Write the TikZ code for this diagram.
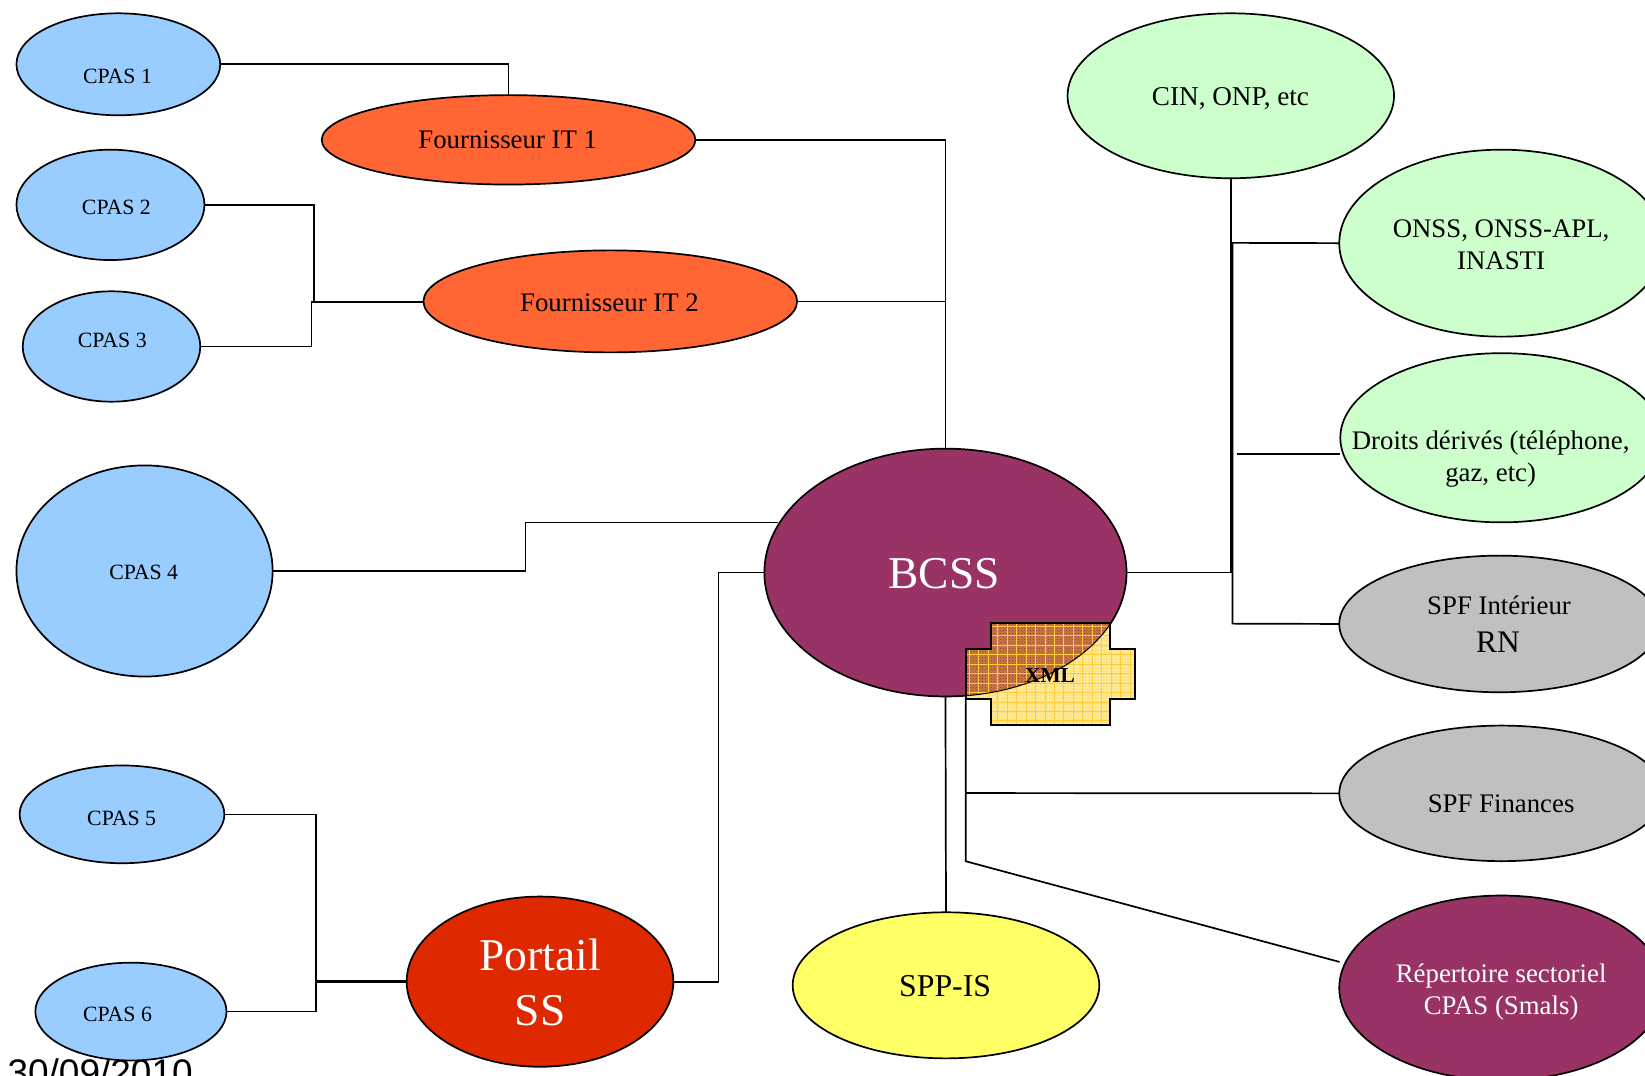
\documentclass[tikz,border=0pt]{standalone}
\usepackage{fontspec}
\setmainfont{Liberation Serif}
\newfontfamily\datefont{Liberation Sans}
\usetikzlibrary{shapes.geometric,patterns}
\definecolor{cpasblue}{HTML}{99CCFF}
\definecolor{itorange}{HTML}{FF6633}
\definecolor{plum}{HTML}{993366}
\definecolor{portred}{HTML}{DD2800}
\definecolor{sppyellow}{HTML}{FFFF66}
\definecolor{mint}{HTML}{CCFFCC}
\definecolor{silverg}{HTML}{C0C0C0}
\definecolor{xmlyellow}{HTML}{FFE27A}
\definecolor{xmlbrown}{HTML}{C67A3A}
\definecolor{xmlgrid}{HTML}{FFCC40}
\tikzset{
  blob/.style={ellipse,draw=black,line width=1.7pt,inner sep=0pt,outer sep=0pt},
  wire/.style={draw=black,line width=1.7pt,line join=miter},
  xmlline/.style={line width=1.7pt,line join=miter},
  lab/.style={anchor=base,align=center,inner sep=0pt,text=black},
  labw/.style={lab,text=white},
}
\newcommand\blobnode[6]{%
  \pgfmathsetmacro\bw{(#4-#3)*1.049-0.8}%
  \pgfmathsetmacro\bh{(#6-#5)*1.049-0.8}%
  \pgfmathsetmacro\bx{(#3+#4)/2+0.3}%
  \pgfmathsetmacro\by{(#5+#6)/2+0.3}%
  \node[blob,fill=#1,minimum width=\bw pt,minimum height=\bh pt] (#2) at (\bx,\by) {};%
}
\newcommand\fsz[1]{\fontsize{#1}{#1}\selectfont}
\begin{document}
\begin{tikzpicture}[x=1.049pt,y=-1.049pt]
\useasboundingbox (0,0) rectangle (1568.16,1025.7);
\clip (0,0) rectangle (1568.16,1025.7);
\fill[white] (0,0) rectangle (1568.16,1025.7);

% date footer
\node[anchor=base west,inner sep=0pt,font=\datefont\fontsize{37}{37}\selectfont] (datelabel) at (7,1035) {30/09/2010};

% ellipses
\blobnode{cpasblue}{c1}{15}{210}{12}{110}
\blobnode{itorange}{f1}{306}{663}{90}{176}
\blobnode{cpasblue}{c2}{15}{195}{142}{248}
\blobnode{cpasblue}{c3}{21}{191}{277}{383}
\blobnode{itorange}{f2}{403}{760}{238}{336}
\blobnode{cpasblue}{c4}{15}{260}{443}{645}
\blobnode{plum}{bcss}{728}{1074}{427}{664}
\blobnode{cpasblue}{c5}{18}{214}{729}{823}
\blobnode{cpasblue}{c6}{33}{216}{917}{1011}
\blobnode{portred}{port}{387}{642}{854}{1017}
\blobnode{sppyellow}{spp}{755}{1048}{869}{1009}
\blobnode{mint}{cin}{1017}{1329}{12}{170}
\blobnode{mint}{onss}{1276}{1586}{142}{321}
\blobnode{mint}{droits}{1277}{1585}{336}{498}
\blobnode{silverg}{spfi}{1276}{1582}{529}{660}
\blobnode{silverg}{spff}{1276}{1586}{691}{821}
\blobnode{plum}{rep}{1276}{1586}{853}{1030}

% junction coordinates
\coordinate (j2) at (299,240);
\coordinate (j3) at (297,288);
\coordinate (j3e) at (403,288);
\coordinate (j4) at (501,522);
\coordinate (b4) at (742,498);
\coordinate (jport) at (685,740);
\coordinate (j5) at (301,850);
\coordinate (j6) at (301,935);
\coordinate (j6e) at (387,935);
\coordinate (jt) at (1175,545);
\coordinate (d0) at (1179,433);
\coordinate (d1) at (1277,433);
\coordinate (jonss) at (1175,231.5);
\coordinate (jspfi) at (1175,594.5);
\coordinate (x0) at (920.6,664);
\coordinate (x1) at (920.6,756);
\coordinate (x2) at (920.6,821);
\coordinate (r1) at (1277,917);

% connectors
\draw[wire] (c1.east) -| (f1.north);
\draw[wire] (f1.east) -| (bcss.north);
\draw[wire] (c2.east) -| (j2) |- (f2.west);
\draw[wire] (c3.east) -| (j3) -- (j3e);
\draw[wire] (f2.east) -| (bcss.north);
\draw[wire] (c4.east) -| (j4) |- (b4);
\draw[wire] (bcss.west) -| (jport) |- (port.east);
\draw[wire] (c5.east) -| (j5) |- (port.west);
\draw[wire] (c6.east) -| (j6) -- (j6e);
\draw[wire] (bcss.south) -- (spp.north);
\draw[wire] (bcss.east) -| (cin.south);
\draw[wire] (jt) -- (jonss) -- (onss.west);
\draw[wire] (jt) -- (jspfi) -- (spfi.west);
\draw[wire] (d0) -- (d1);
\draw[wire] (x0) -- (x2) -- (r1);
\draw[wire] (x1) -- (spff.west);

% XML shape: plaid, semi-opaque over the BCSS ellipse
\begin{scope}
  \clip (945,594) -- (1058,594) -- (1058,619) -- (1082,619) -- (1082,666.4) -- (1058,666.4) -- (1058,691) -- (945,691) -- (945,666.4) -- (920.6,666.4) -- (920.6,619) -- (945,619) -- cycle;
  \fill[xmlyellow] (915,590) rectangle (1090,695);
  \fill[pattern=crosshatch dots,pattern color=white] (915,590) rectangle (1090,695);
  \begin{scope}
    \clip (901,545.5) ellipse [x radius=173,y radius=118.5];
    \fill[xmlbrown] (915,590) rectangle (1090,695);
    \fill[pattern=crosshatch dots,pattern color=plum] (915,590) rectangle (1090,695);
  \end{scope}
  \foreach \gx in {924,933,...,1085} \draw[xmlgrid,line width=0.5pt] (\gx,590) -- (\gx,695);
  \foreach \gy in {597,606,...,695} \draw[xmlgrid,line width=0.5pt] (915,\gy) -- (1090,\gy);
  \draw[black,line width=1pt] (901,545.5) ellipse [x radius=173,y radius=118.5];
\end{scope}
\draw[xmlline] (945,594) -- (1058,594) -- (1058,619) -- (1082,619) -- (1082,666.4) -- (1058,666.4) -- (1058,691) -- (945,691) -- (945,666.4) -- (920.6,666.4) -- (920.6,619) -- (945,619) -- cycle;

% labels
\node[lab,font=\fsz{21.8}] (tc1) at (112,80) {CPAS 1};
\node[lab,font=\fsz{26.8}] (tf1) at (484,142) {Fournisseur IT 1};
\node[lab,font=\fsz{21.8}] (tc2) at (111,204) {CPAS 2};
\node[lab,font=\fsz{21.8}] (tc3) at (107,331) {CPAS 3};
\node[lab,font=\fsz{26.8}] (tf2) at (581,297) {Fournisseur IT 2};
\node[lab,font=\fsz{21.8}] (tc4) at (137,552) {CPAS 4};
\node[labw,font=\fsz{45.5}] (tb) at (900,561) {BCSS};
\node[lab,font=\fsz{21.8}] (tc5) at (116,787) {CPAS 5};
\node[lab,font=\fsz{21.8}] (tc6) at (112,974) {CPAS 6};
\node[labw,font=\fontsize{45.5}{55.5}\selectfont] (tp) at (515,978) {Portail\\SS};
\node[lab,font=\fsz{31.8}] (ts) at (901,950) {SPP-IS};
\node[lab,font=\fsz{27.2}] (tcin) at (1173,101) {CIN, ONP, etc};
\node[lab,font=\fontsize{26.8}{32.5}\selectfont] (to) at (1431,257) {ONSS, ONSS-APL,\\INASTI};
\node[lab,font=\fontsize{26.8}{32.5}\selectfont] (td) at (1421,459) {Droits dérivés (téléphone,\\gaz, etc)};
\node[lab,font=\fsz{26.8}] (ti) at (1429,586) {SPF Intérieur};
\node[lab,font=\fsz{31.4}] (trn) at (1428,622) {RN};
\node[lab,font=\fsz{26.8}] (tff) at (1431,775) {SPF Finances};
\node[labw,font=\fontsize{26.8}{31.5}\selectfont] (tr) at (1431,967) {Répertoire sectoriel\\CPAS (Smals)};
\node[lab,font=\bfseries\fsz{21.3}] (tx) at (1001,651) {XML};
\end{tikzpicture}
\end{document}
